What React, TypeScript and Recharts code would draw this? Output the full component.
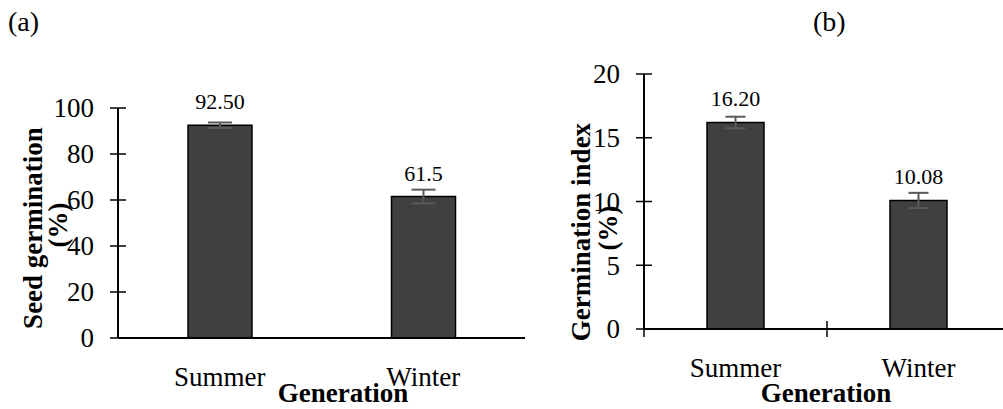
import React from "react";
import { BarChart, Bar, XAxis, YAxis, ErrorBar, LabelList } from "recharts";

const FONT = '"Liberation Serif", "Times New Roman", serif';

// categories
const generations = ["Summer", "Winter"];

// (a) seed germination (%)
const seedGermination = [92.5, 61.5];
const seedGerminationErr = [1.2, 3.0];
const seedGerminationLabels = ["92.50", "61.5"];
const seedTicks = [0, 20, 40, 60, 80, 100];

// (b) germination index
const germinationIndex = [16.2, 10.08];
const germinationIndexErr = [0.45, 0.6];
const germinationIndexLabels = ["16.20", "10.08"];
const indexTicks = [0, 5, 10, 15, 20];

const dataA = generations.map((g, i) => ({
  name: g,
  value: seedGermination[i],
  err: seedGerminationErr[i],
  label: seedGerminationLabels[i],
}));

const dataB = generations.map((g, i) => ({
  name: g,
  value: germinationIndex[i],
  err: germinationIndexErr[i],
  label: germinationIndexLabels[i],
}));

const YTick = (props: any) => {
  const { x, y, payload } = props;
  return (
    <g>
      <line x1={x - 8} x2={x + 8} y1={y} y2={y} stroke="#000" strokeWidth={1.5} />
      <text
        x={x - 24}
        y={y}
        dy="0.35em"
        textAnchor="end"
        fontFamily={FONT}
        fontSize={27}
        fill="#000"
      >
        {payload.value}
      </text>
    </g>
  );
};

const makeXTick = (band: number, boundaryTicks: boolean) => (props: any) => {
  const { x, y, payload } = props;
  return (
    <g>
      {boundaryTicks && (
        <line
          x1={x - band / 2}
          x2={x - band / 2}
          y1={y - 8}
          y2={y + 8}
          stroke="#000"
          strokeWidth={1.5}
        />
      )}
      <text x={x} y={y + 48} textAnchor="middle" fontFamily={FONT} fontSize={27} fill="#000">
        {payload.value}
      </text>
    </g>
  );
};

const titleStyle = { fontFamily: FONT, fontSize: 27, fontWeight: "bold" as const, fill: "#000" };

export default function App() {
  return (
    <div
      style={{
        position: "fixed",
        left: 0,
        top: 0,
        width: 1003,
        height: 409,
        overflow: "hidden",
        background: "#fff",
      }}
    >
      {/* panel (a) */}
      <div style={{ position: "absolute", left: 0, top: 0 }}>
        <BarChart width={540} height={409} data={dataA} margin={{ top: 108, right: 15, bottom: 0, left: 0 }}>
          <XAxis
            dataKey="name"
            height={71}
            tickSize={0}
            tickMargin={0}
            tickLine={false}
            axisLine={{ stroke: "#000", strokeWidth: 2 }}
            tick={makeXTick(203.5, false)}
          />
          <YAxis
            width={118}
            domain={[0, 100]}
            ticks={seedTicks}
            interval={0}
            tickSize={0}
            tickMargin={0}
            tickLine={false}
            axisLine={{ stroke: "#000", strokeWidth: 2 }}
            tick={<YTick />}
          />
          <Bar dataKey="value" barSize={64} fill="#404040" stroke="#000" strokeWidth={1.5} isAnimationActive={false}>
            <ErrorBar dataKey="err" width={12} stroke="#595959" strokeWidth={2} isAnimationActive={false} />
            <LabelList dataKey="label" position="top" offset={16} fill="#000" fontSize={22} fontFamily={FONT} />
          </Bar>
        </BarChart>
      </div>

      {/* panel (b) */}
      <div style={{ position: "absolute", left: 520, top: 0 }}>
        <BarChart width={490} height={409} data={dataB} margin={{ top: 74, right: 0, bottom: 0, left: 0 }}>
          <XAxis
            dataKey="name"
            height={80}
            tickSize={0}
            tickMargin={0}
            tickLine={false}
            axisLine={{ stroke: "#000", strokeWidth: 2 }}
            tick={makeXTick(183, true)}
          />
          <YAxis
            width={124}
            domain={[0, 20]}
            ticks={indexTicks}
            interval={0}
            tickSize={0}
            tickMargin={0}
            tickLine={false}
            axisLine={{ stroke: "#000", strokeWidth: 2 }}
            tick={<YTick />}
          />
          <Bar dataKey="value" barSize={57} fill="#404040" stroke="#000" strokeWidth={1.5} isAnimationActive={false}>
            <ErrorBar dataKey="err" width={10} stroke="#595959" strokeWidth={2} isAnimationActive={false} />
            <LabelList dataKey="label" position="top" offset={16} fill="#000" fontSize={22} fontFamily={FONT} />
          </Bar>
        </BarChart>
      </div>

      {/* titles */}
      <svg
        width={1003}
        height={409}
        style={{ position: "absolute", left: 0, top: 0, pointerEvents: "none" }}
      >
        <text x={8} y={31} fontFamily={FONT} fontSize={28} fill="#000">(a)</text>
        <text x={813} y={31} fontFamily={FONT} fontSize={28} fill="#000">(b)</text>

        <text x={42} y={228} textAnchor="middle" transform="rotate(-90 42 228)" {...titleStyle}>
          Seed germination
        </text>
        <text x={67} y={225} textAnchor="middle" transform="rotate(-90 67 225)" {...titleStyle}>
          (%)
        </text>
        <text x={590} y={232} textAnchor="middle" transform="rotate(-90 590 232)" {...titleStyle}>
          Germination index
        </text>
        <text x={617} y={228} textAnchor="middle" transform="rotate(-90 617 228)" {...titleStyle}>
          (%)
        </text>

        <text x={343} y={402} textAnchor="middle" {...titleStyle}>Generation</text>
        <text x={826} y={402} textAnchor="middle" {...titleStyle}>Generation</text>
      </svg>
    </div>
  );
}
